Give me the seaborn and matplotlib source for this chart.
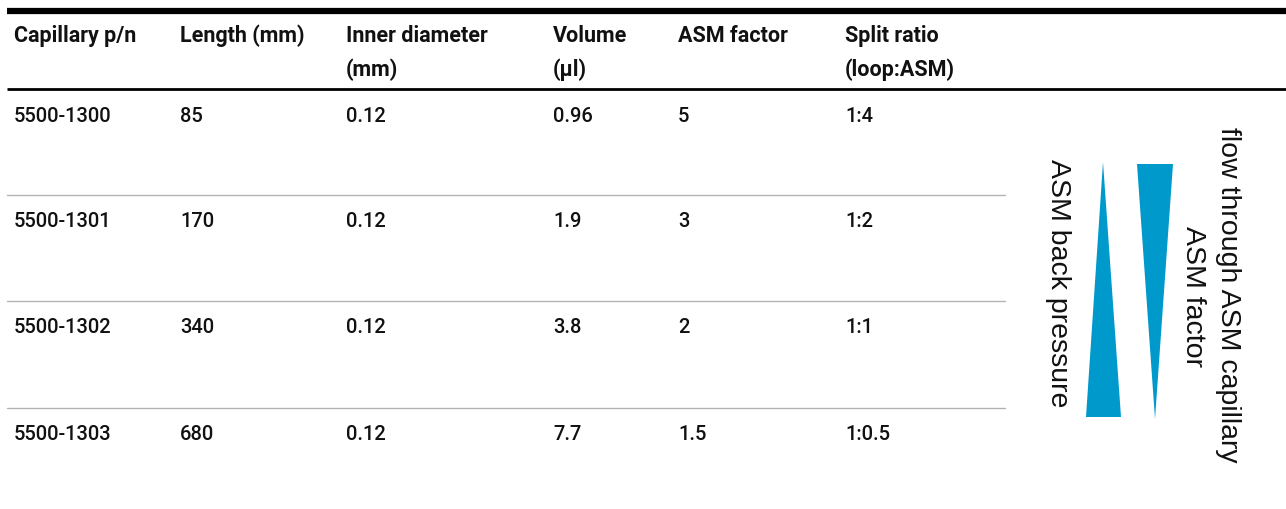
import matplotlib
matplotlib.use("Agg")
import matplotlib.pyplot as plt
import seaborn as sns

sns.set_style("white")
plt.rcParams['font.family'] = ['Roboto', 'DejaVu Sans']
plt.rcParams['text.color'] = '#111111'

# table content
headers = [
    "Capillary p/n", "Length (mm)", "Inner diameter\n(mm)",
    "Volume\n(µl)", "ASM factor", "Split ratio\n(loop:ASM)",
]
part_numbers = ["5500-1300", "5500-1301", "5500-1302", "5500-1303"]
lengths = ["85", "170", "340", "680"]
inner_diameters = ["0.12", "0.12", "0.12", "0.12"]
volumes = ["0.96", "1.9", "3.8", "7.7"]
asm_factors = ["5", "3", "2", "1.5"]
split_ratios = ["1:4", "1:2", "1:1", "1:0.5"]

columns = [part_numbers, lengths, inner_diameters, volumes, asm_factors, split_ratios]

# layout (pixels)
col_x = [14, 180, 346, 553, 678, 845]
row_y = [117, 222, 328, 435]
head_y = [36, 70]
blue = "#0099cc"

fig = plt.figure(figsize=(12.86, 5.10), dpi=100)
ax = fig.add_axes([0, 0, 1, 1])
ax.set_xlim(0, 1286)
ax.set_ylim(510, 0)
ax.axis("off")

# rules
ax.plot([7, 1286], [12, 12], color="black", lw=4.5, solid_capstyle="butt")
ax.plot([7, 1286], [89.5, 89.5], color="black", lw=2, solid_capstyle="butt")
for y in [196, 302, 409]:
    ax.plot([7, 1005], [y, y], color="#b3b3b3", lw=1)

# header
for x, h in zip(col_x, headers):
    for y, line in zip(head_y, h.split("\n")):
        ax.text(x, y, line, fontsize=15.5, fontweight="bold", va="center", ha="left")

# body
for x, col in zip(col_x, columns):
    for y, val in zip(row_y, col):
        ax.text(x, y, val, fontsize=14.5, fontweight="medium", va="center", ha="left")

# triangles
ax.fill([1103, 1086, 1121], [163, 418, 418], color=blue, lw=0)
ax.fill([1137, 1173, 1155], [165, 165, 420], color=blue, lw=0)

side_font = ['Liberation Sans', 'DejaVu Sans']
ax.text(1058, 283, "ASM back pressure", rotation=-90, fontsize=20.5,
        ha="center", va="center", family=side_font)
ax.text(1193, 297, "ASM factor", rotation=-90, fontsize=20.5,
        ha="center", va="center", family=side_font)
ax.text(1228, 295, "flow through ASM capillary", rotation=-90, fontsize=20.5,
        ha="center", va="center", family=side_font)

fig.savefig("out.png", dpi=100)
